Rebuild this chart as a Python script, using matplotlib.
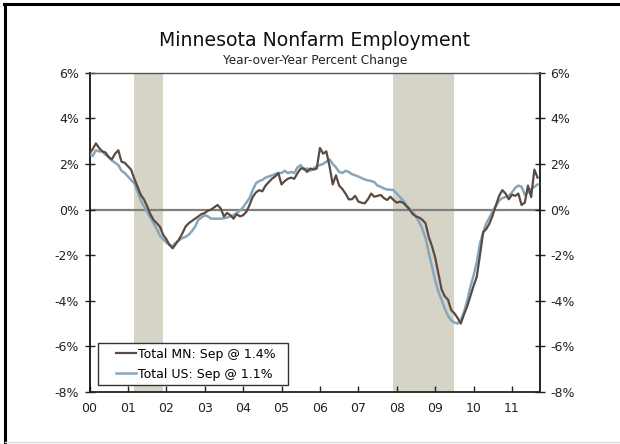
import matplotlib
matplotlib.use("Agg")
import matplotlib.pyplot as plt
from matplotlib.lines import Line2D
from matplotlib.legend_handler import HandlerLine2D
import numpy as np

plt.rcParams['font.family'] = ['DejaVu Sans']

# Monthly data, Jan 2000 - Sep 2011 (year-over-year % change)
mn = [2.45, 2.65, 2.9, 2.7, 2.55, 2.5, 2.3, 2.2, 2.45, 2.6, 2.1, 2.05,
      1.9, 1.75, 1.35, 1.0, 0.65, 0.45, 0.15, -0.2, -0.45, -0.6, -0.75, -1.1,
      -1.3, -1.55, -1.7, -1.5, -1.3, -1.05, -0.75, -0.6, -0.5, -0.4, -0.3, -0.2,
      -0.15, -0.05, 0.0, 0.1, 0.2, 0.05, -0.3, -0.15, -0.25, -0.4, -0.2, -0.3,
      -0.25, -0.1, 0.2, 0.55, 0.75, 0.85, 0.8, 1.05, 1.2, 1.35, 1.45, 1.6,
      1.1, 1.25, 1.35, 1.4, 1.35, 1.6, 1.8, 1.8, 1.65, 1.8, 1.75, 1.8,
      2.7, 2.45, 2.55, 1.9, 1.1, 1.5, 1.05, 0.9, 0.7, 0.45, 0.45, 0.6,
      0.35, 0.3, 0.27, 0.45, 0.7, 0.56, 0.6, 0.64, 0.5, 0.42, 0.56, 0.42,
      0.3, 0.35, 0.3, 0.15, 0.0, -0.2, -0.3, -0.35, -0.45, -0.6, -1.2, -1.6,
      -2.1, -2.8, -3.5, -3.8, -3.95, -4.4, -4.55, -4.75, -5.0, -4.6, -4.25, -3.8,
      -3.35, -2.95, -2.0, -1.0, -0.85, -0.6, -0.25, 0.2, 0.6, 0.85, 0.7, 0.45,
      0.65, 0.6, 0.7, 0.2, 0.3, 1.05, 0.55, 1.75, 1.4]
us = [2.45, 2.35, 2.6, 2.55, 2.55, 2.4, 2.3, 2.15, 2.05, 1.95, 1.7, 1.6,
      1.45, 1.3, 1.15, 0.8, 0.4, 0.15, -0.1, -0.35, -0.6, -0.85, -1.15, -1.3,
      -1.45, -1.55, -1.6, -1.45, -1.35, -1.25, -1.2, -1.1, -0.95, -0.75, -0.45, -0.35,
      -0.25, -0.3, -0.4, -0.4, -0.4, -0.4, -0.38, -0.35, -0.3, -0.25, -0.15, -0.05,
      0.1, 0.3, 0.5, 0.85, 1.15, 1.25, 1.3, 1.4, 1.45, 1.5, 1.55, 1.6,
      1.6, 1.7, 1.6, 1.65, 1.6, 1.85, 1.95, 1.75, 1.8, 1.7, 1.8, 1.9,
      1.95, 2.0, 2.1, 2.2, 2.0, 1.85, 1.65, 1.6, 1.7, 1.65, 1.55, 1.5,
      1.45, 1.38, 1.32, 1.28, 1.25, 1.2, 1.05, 1.0, 0.92, 0.88, 0.87, 0.85,
      0.7, 0.55, 0.4, 0.2, 0.05, -0.1, -0.3, -0.55, -0.85, -1.25, -1.9, -2.5,
      -3.1, -3.6, -3.95, -4.35, -4.65, -4.85, -4.95, -5.0, -4.85, -4.5, -4.0, -3.4,
      -2.9, -2.3, -1.5, -1.0, -0.6, -0.35, -0.05, 0.15, 0.4, 0.5, 0.55, 0.6,
      0.75, 0.95, 1.05, 1.0, 0.65, 0.75, 0.9, 1.0, 1.1]
start_year = 2000
recessions = [(2001.15, 2001.92), (2007.9, 2009.5)]
year_ticks = list(range(2000, 2012))
year_labels = ['00', '01', '02', '03', '04', '05', '06', '07', '08', '09', '10', '11']
y_ticks = [-8, -6, -4, -2, 0, 2, 4, 6]
y_labels = ['-8%', '-6%', '-4%', '-2%', '0%', '2%', '4%', '6%']
mn_label = 'Total MN: Sep @ 1.4%'
us_label = 'Total US: Sep @ 1.1%'

W, H = 620, 444
fig = plt.figure(figsize=(W / 100, H / 100), dpi=100)
fig.patch.set_facecolor('white')

AX_L, AX_R, AX_T, AX_B = 89.5, 540, 72.7, 392
ax = fig.add_axes([AX_L / W, 1 - AX_B / H, (AX_R - AX_L) / W, (AX_B - AX_T) / H])
aw, ah = AX_R - AX_L, AX_B - AX_T

t = start_year + np.arange(len(mn)) / 12.0

for a, b in recessions:
    ax.axvspan(a, b, color='#d6d3c7', lw=0, zorder=0)

ax.axhline(0, color='#7f7f7f', lw=1.6, zorder=1)
l_us, = ax.plot(t, us, color='#87a6bb', lw=1.8, zorder=3)
l_mn, = ax.plot(t, mn, color='#5a4a40', lw=1.6, zorder=4)

ax.set_xlim(2000, 2011.73)
ax.set_ylim(-8, 6)
ax.set_xticks(year_ticks)
ax.set_xticklabels(year_labels)
ax.set_yticks(y_ticks)
ax.set_yticklabels(y_labels)

ax.tick_params(axis='y', which='both', left=True, right=True, labelleft=True,
               labelright=True, direction='inout', length=7, width=1,
               labelsize=9, colors='#222222', pad=4)
ax.tick_params(axis='x', direction='in', length=4, width=1, labelsize=9,
               colors='#222222', pad=7)

for s in ['left', 'right']:
    ax.spines[s].set_color('#111111')
    ax.spines[s].set_linewidth(1.3)
ax.spines['bottom'].set_color('#222222')
ax.spines['bottom'].set_linewidth(1.3)
ax.spines['top'].set_color('#555555')
ax.spines['top'].set_linewidth(1.0)

# legend box: x 97.5..288.5, y 344..385 (pixels)
lx0, lx1, ly0, ly1 = 97.5, 288.5, 344, 385
leg = ax.legend([l_mn, l_us], [mn_label, us_label],
                loc='lower left',
                bbox_to_anchor=((lx0 - AX_L) / aw, (AX_B - ly1) / ah,
                                (lx1 - lx0) / aw, (ly1 - ly0) / ah),
                mode='expand', frameon=True, fancybox=False, fontsize=9,
                handlelength=2.7, handletextpad=0.15, borderpad=0.35,
                labelspacing=0.55, borderaxespad=0,
                handler_map={l_mn: HandlerLine2D(xpad=1.1),
                             l_us: HandlerLine2D(xpad=1.1)})
leg.get_frame().set_edgecolor('#333333')
leg.get_frame().set_linewidth(1.0)
leg.get_frame().set_facecolor('white')
leg.get_frame().set_alpha(1)

cx = (AX_L + AX_R) / 2
fig.text(cx / W, 1 - 46.5 / H, 'Minnesota Nonfarm Employment', ha='center',
         va='baseline', fontsize=13.6, color='#111111')
fig.text(cx / W, 1 - 64 / H, 'Year-over-Year Percent Change', ha='center',
         va='baseline', fontsize=8.7, color='#222222')

# outer frame (left/top black, bottom light grey)
fig.add_artist(Line2D([5 / W, 5 / W], [0, 1 - 4 / H], color='black', lw=2.2,
                      transform=fig.transFigure))
fig.add_artist(Line2D([4 / W, 1], [1 - 4.5 / H, 1 - 4.5 / H], color='black', lw=2.2,
                      transform=fig.transFigure))
fig.add_artist(Line2D([5 / W, 1], [1 - 442 / H, 1 - 442 / H], color='#dddddd', lw=1,
                      transform=fig.transFigure))

fig.savefig('out.png', dpi=100)
